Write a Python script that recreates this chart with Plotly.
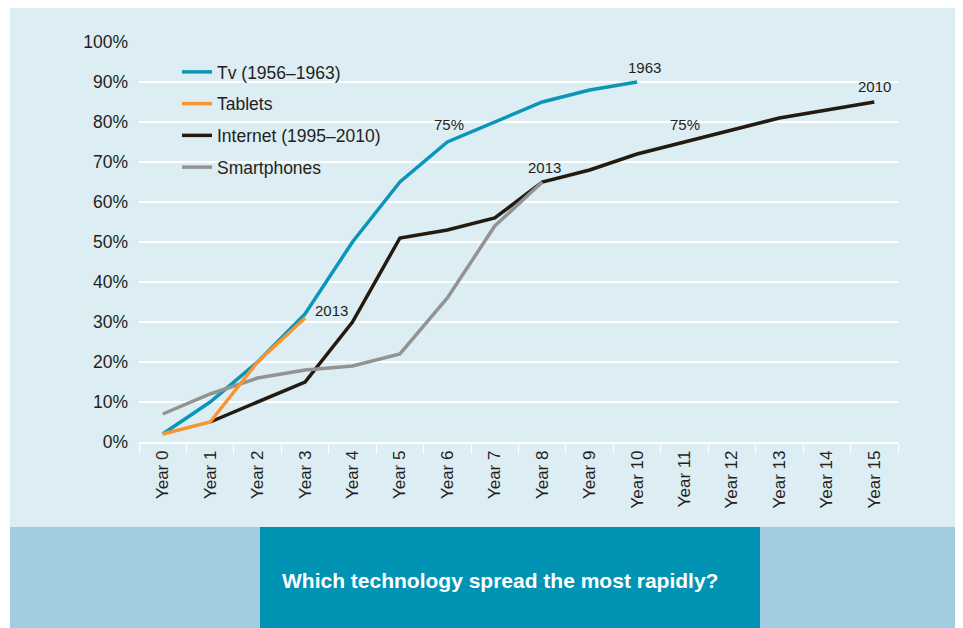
import plotly.graph_objects as go

# data
years = ["Year %d" % i for i in range(16)]
tv = [2, 10, 20, 32, 50, 65, 75, 80, 85, 88, 90]
tablets = [2, 5, 20, 31]
internet = [None, 5, 10, 15, 30, 51, 53, 56, 65, 68, 72, 75, 78, 81, 83, 85]
smartphones = [7, 12, 16, 18, 19, 22, 36, 54, 65]
y_ticks = list(range(0, 101, 10))
y_labels = ["%d%%" % v for v in y_ticks]

OFF = 8                          # page body margin in the browser
W, H = 963 - OFF, 628 - OFF      # figure fits the window exactly
L, R, T, B = 139, 898, 42, 442   # plot area in page pixels

PANEL = "#ddedf4"
BAND = "#a2cde0"
TEAL = "#0093b4"
INK = "#231f20"
FONT = "Liberation Sans"


def px(x):
    return (x - L) / (R - L)


def py(y):
    return (B - y) / (B - T)


fig = go.Figure()

fig.add_trace(go.Scatter(x=years[:len(tv)], y=tv, name="Tv (1956\u20131963)",
                         mode="lines", line=dict(color="#0b95b7", width=3.5)))
fig.add_trace(go.Scatter(x=years[:len(internet)], y=internet, name="Internet (1995\u20132010)",
                         mode="lines", line=dict(color="#231a10", width=3.5)))
fig.add_trace(go.Scatter(x=years[:len(smartphones)], y=smartphones, name="Smartphones",
                         mode="lines", line=dict(color="#939393", width=3.5)))
fig.add_trace(go.Scatter(x=years[:len(tablets)], y=tablets, name="Tablets",
                         mode="lines", line=dict(color="#f7962f", width=3.5)))

# background panels
shapes = [
    dict(type="rect", xref="paper", yref="paper", x0=px(10), x1=px(990),
         y0=py(527), y1=py(6), fillcolor=PANEL, line_width=0, layer="below"),
    dict(type="rect", xref="paper", yref="paper", x0=px(10), x1=px(990),
         y0=py(660), y1=py(527), fillcolor=BAND, line_width=0, layer="below"),
    dict(type="rect", xref="paper", yref="paper", x0=px(260), x1=px(760),
         y0=py(660), y1=py(527), fillcolor=TEAL, line_width=0, layer="below"),
    # legend box hides the gridlines behind it
    dict(type="rect", xref="paper", yref="paper", x0=px(165), x1=px(393),
         y0=py(178), y1=py(62), fillcolor=PANEL, line_width=0, layer="between"),
]

notes = [
    ("Year 3", tablets[3], "2013", 8, 8, "left"),
    ("Year 8", smartphones[8], "2013", 2, 15, "center"),
    ("Year 6", tv[6], "75%", 2, 18, "center"),
    ("Year 11", internet[11], "75%", 0, 18, "center"),
    ("Year 10", tv[10], "1963", 7, 15, "center"),
    ("Year 15", internet[15], "2010", 0, 16, "center"),
]
annotations = []
for x, y, txt, dx, dy, al in notes:
    annotations.append(dict(x=x, y=y, text=txt, showarrow=False, xanchor=al, yanchor="middle",
                            xshift=dx, yshift=dy, font=dict(size=15, color=INK, family=FONT)))

annotations.append(dict(xref="paper", yref="paper", x=px(500), y=py(580),
                        xanchor="center", yanchor="middle",
                        text="<b>Which technology spread the most rapidly?</b>",
                        showarrow=False, font=dict(size=21, color="white", family=FONT)))

fig.update_layout(
    width=W, height=H,
    margin=dict(l=L - OFF, r=W - (R - OFF), t=T - OFF, b=H - (B - OFF)),
    paper_bgcolor="white",
    plot_bgcolor="rgba(0,0,0,0)",
    font=dict(family=FONT, color=INK),
    shapes=shapes,
    annotations=annotations,
    legend=dict(x=px(177), y=py(54), xanchor="left", yanchor="top",
                bgcolor="rgba(0,0,0,0)", font=dict(size=17.5, color=INK, family=FONT),
                traceorder="grouped", tracegroupgap=6, itemwidth=30),
    xaxis=dict(type="category", categoryorder="array", categoryarray=years,
               range=[-0.5, 15.5], showgrid=False, showline=True, linecolor="white",
               linewidth=1.5, ticks="outside", tickcolor="white", ticklen=10,
               tickson="boundaries", tickangle=-90, zeroline=False,
               tickfont=dict(size=17, color=INK, family=FONT)),
    yaxis=dict(range=[0, 100], tickvals=y_ticks, ticktext=y_labels,
               showgrid=True, gridcolor="white", gridwidth=1.5, zeroline=False,
               showline=False, ticks="", ticklabelstandoff=10,
               tickfont=dict(size=17.5, color=INK, family=FONT)),
)

# legend order as in the reference, one group per trace so the gap applies
legend_rank = {"Tv (1956\u20131963)": 1, "Tablets": 2, "Internet (1995\u20132010)": 3, "Smartphones": 4}
for tr in fig.data:
    tr.legendrank = legend_rank[tr.name]
    tr.legendgroup = tr.name
    tr.cliponaxis = False

fig.write_html("out.html")
